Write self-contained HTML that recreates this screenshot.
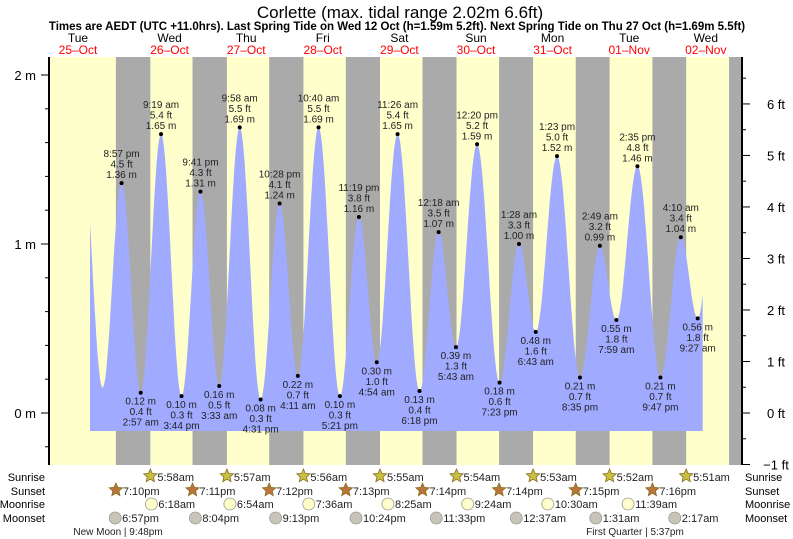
<!DOCTYPE html>
<html><head><meta charset="utf-8"><style>
body{margin:0;background:#fff;}
svg{display:block;font-family:"Liberation Sans",sans-serif;}
</style></head><body>
<svg id="c" width="793" height="539" viewBox="0 0 793 539"></svg>
<script>
const tideTimes=["2022-10-25 08:30","2022-10-25 15:00","2022-10-25 20:57","2022-10-26 02:57","2022-10-26 09:19","2022-10-26 15:44","2022-10-26 21:41","2022-10-27 03:33","2022-10-27 09:58","2022-10-27 16:31","2022-10-27 22:28","2022-10-28 04:11","2022-10-28 10:40","2022-10-28 17:21","2022-10-28 23:19","2022-10-29 04:54","2022-10-29 11:26","2022-10-29 18:18","2022-10-30 00:18","2022-10-30 05:43","2022-10-30 12:20","2022-10-30 19:23","2022-10-31 01:28","2022-10-31 06:43","2022-10-31 13:23","2022-10-31 20:35","2022-11-01 02:49","2022-11-01 07:59","2022-11-01 14:35","2022-11-01 21:47","2022-11-02 04:10","2022-11-02 09:27","2022-11-02 15:30"];
const tideHeights=[1.62,0.15,1.36,0.12,1.65,0.10,1.31,0.16,1.69,0.08,1.24,0.22,1.69,0.10,1.16,0.30,1.65,0.13,1.07,0.39,1.59,0.18,1.00,0.48,1.52,0.21,0.99,0.55,1.46,0.21,1.04,0.56,1.45];
const tideLabels=[null,null,"8:57 pm","2:57 am","9:19 am","3:44 pm","9:41 pm","3:33 am","9:58 am","4:31 pm","10:28 pm","4:11 am","10:40 am","5:21 pm","11:19 pm","4:54 am","11:26 am","6:18 pm","12:18 am","5:43 am","12:20 pm","7:23 pm","1:28 am","6:43 am","1:23 pm","8:35 pm","2:49 am","7:59 am","2:35 pm","9:47 pm","4:10 am","9:27 am",null];
const tideFt=[null,null,"4.5","0.4","5.4","0.3","4.3","0.5","5.5","0.3","4.1","0.7","5.5","0.3","3.8","1.0","5.4","0.4","3.5","1.3","5.2","0.6","3.3","1.6","5.0","0.7","3.2","1.8","4.8","0.7","3.4","1.8",null];
const dayNames=["Tue","Wed","Thu","Fri","Sat","Sun","Mon","Tue","Wed"];
const dayDates=["25–Oct","26–Oct","27–Oct","28–Oct","29–Oct","30–Oct","31–Oct","01–Nov","02–Nov"];
const sunrise=["","5:58am","5:57am","5:56am","5:55am","5:54am","5:53am","5:52am","5:51am"];
const sunset=["7:10pm","7:11pm","7:12pm","7:13pm","7:14pm","7:14pm","7:15pm","7:16pm",""];
const moonrise=["","6:18am","6:54am","7:36am","8:25am","9:24am","10:30am","11:39am",""];
const moonset=["6:57pm","8:04pm","9:13pm","10:24pm","11:33pm","","12:37am","1:31am","2:17am"];
const leftTicks=[0,1,2];
const rightTicks=[-1,0,1,2,3,4,5,6];

const NS="http://www.w3.org/2000/svg";
const svg=document.getElementById('c');
const X0=54.7,PD=76.6,T0=Date.UTC(2022,9,25);
const PL=49,PR=742,PT=57,PB=465;
function xd(d){return X0+PD*d;}
function parseT(s){const [a,b]=s.split(' ');const [y,m,d]=a.split('-').map(Number);const [h,mi]=b.split(':').map(Number);return (Date.UTC(y,m-1,d,h,mi)-T0)/864e5;}
function hm(s){let m=s.match(/(\d+):(\d+)(am|pm)/);let h=+m[1]%12;if(m[3]=='pm')h+=12;return (h+ +m[2]/60)/24;}
function ym(v){return 413-169*v;}
function mk(tag,attrs,name,text){const e=document.createElementNS(NS,tag);for(const k in attrs)e.setAttribute(k,attrs[k]);


if(text!==undefined)e.textContent=text;svg.appendChild(e);return e;}

mk('rect',{x:PL,y:PT,width:PR-PL,height:PB-PT,fill:'#ffffcc'},'plot-background');
for(let d=0;d<8;d++){
  const s=d+hm(sunset[d]), r=d+1+hm(sunrise[d+1]);
  mk('rect',{x:xd(s),y:PT,width:xd(r)-xd(s),height:PB-PT,fill:'#aaaaaa'},'night-band');
}
mk('rect',{x:xd(8+hm('7:17pm')),y:PT,width:PR-xd(8+hm('7:17pm')),height:PB-PT,fill:'#aaaaaa'},'night-band');

const td=tideTimes.map(parseT);
const start=parseT("2022-10-25 11:04"), end=parseT("2022-11-02 11:02");
function hAt(t){for(let i=0;i<td.length-1;i++){if(t>=td[i]&&t<=td[i+1]){const p=(t-td[i])/(td[i+1]-td[i]);return tideHeights[i]+(tideHeights[i+1]-tideHeights[i])*(1-Math.cos(Math.PI*p))/2;}}return tideHeights[0];}
let pts=[];const N=900;
for(let i=0;i<=N;i++){const t=start+(end-start)*i/N;pts.push(xd(t).toFixed(1)+','+ym(hAt(t)).toFixed(1));}
const yb=431;
mk('polygon',{points:xd(start).toFixed(1)+','+yb+' '+pts.join(' ')+' '+xd(end).toFixed(1)+','+yb,fill:'#a0aaff'},'tide-area');

for(let i=0;i<td.length;i++){
  if(!tideLabels[i])continue;
  const x=xd(td[i]),y=ym(tideHeights[i]);
  const hi=(i%2===0);
  mk('circle',{cx:x,cy:y,r:2,fill:'#000'},hi?'high-tide-point':'low-tide-point');
  const lines=hi?[tideLabels[i],tideFt[i]+' ft',tideHeights[i].toFixed(2)+' m']:[tideHeights[i].toFixed(2)+' m',tideFt[i]+' ft',tideLabels[i]];
  lines.forEach((l,k)=>{
    const ty=hi?y-26+k*10.5:y+12+k*10.5;
    mk('text',{x:x,y:ty,'font-size':10,'text-anchor':'middle',fill:'#222'},hi?'high-tide-label':'low-tide-label',l);
  });
}

mk('line',{x1:PL,y1:PT,x2:PL,y2:PB,stroke:'#000','stroke-width':2},'left-axis');
mk('line',{x1:PR,y1:PT,x2:PR,y2:PB,stroke:'#000','stroke-width':2},'right-axis');
for(let v=-0.2;v<=2.21;v+=0.2){const y=ym(v);if(y<PT||y>PB)continue;mk('line',{x1:PL-4,y1:y,x2:PL,y2:y,stroke:'#000'},'left-minor-tick');}
leftTicks.forEach(v=>{const y=ym(v);mk('line',{x1:PL-8,y1:y,x2:PL,y2:y,stroke:'#000'},'left-major-tick');
  mk('text',{x:36,y:y+5,'font-size':13,'text-anchor':'end',fill:'#000'},'left-tick-label',v+' m');});
for(let f=-1;f<=6.51;f+=0.5){const y=ym(f*0.3048);mk('line',{x1:PR,y1:y,x2:PR+(Number.isInteger(f)?8:4),y2:y,stroke:'#000'},'right-tick');}
rightTicks.forEach(f=>{const y=ym(f*0.3048);mk('text',{x:776,y:y+5,'font-size':13,'text-anchor':'middle',fill:'#000'},'right-tick-label',(f<0?'−'+(-f):f)+' ft');});

dayNames.forEach((n,d)=>{const x=d===0?78:xd(d+0.5);
  mk('text',{x:x,y:42,'font-size':12,'text-anchor':'middle',fill:'#000'},'day-name',n);
  mk('text',{x:x,y:54,'font-size':12,'text-anchor':'middle',fill:'#ff0000'},'day-date',dayDates[d]);});

mk('text',{x:400,y:18,'font-size':17,'text-anchor':'middle',fill:'#000'},'chart-title','Corlette (max. tidal range 2.02m 6.6ft)');
mk('text',{x:397,y:30,'font-size':11.5,'font-weight':'bold','text-anchor':'middle',fill:'#000'},'chart-subtitle','Times are AEDT (UTC +11.0hrs). Last Spring Tide on Wed 12 Oct (h=1.59m 5.2ft). Next Spring Tide on Thu 27 Oct (h=1.69m 5.5ft)');

const rows=[['Sunrise',477,sunrise,'sunrise'],['Sunset',491,sunset,'sunset'],['Moonrise',504,moonrise,'moonrise'],['Moonset',518,moonset,'moonset']];
function star(cx,cy,fill,name){let p=[];for(let k=0;k<10;k++){const r=k%2?3.2:7,a=-Math.PI/2+k*Math.PI/5;p.push((cx+r*Math.cos(a)).toFixed(1)+','+(cy+r*Math.sin(a)).toFixed(1));}
  mk('polygon',{points:p.join(' '),fill:fill,stroke:'#8a6a20','stroke-width':0.8},name);}
rows.forEach(([lab,y,arr,kind])=>{
  mk('text',{x:45,y:y+4,'font-size':11,'text-anchor':'end',fill:'#000'},kind+'-row-label',lab);
  mk('text',{x:745,y:y+4,'font-size':11,fill:'#000'},kind+'-row-label-right',lab);
  arr.forEach((t,d)=>{if(!t)return;const x=xd(d+hm(t));
    if(kind==='sunrise')star(x,y-1,'#c8c040','sunrise-icon');
    else if(kind==='sunset')star(x,y-1,'#b8763a','sunset-icon');
    else mk('circle',{cx:x,cy:y,r:6,fill:kind==='moonrise'?'#ffffcc':'#c8c4b8',stroke:'#999','stroke-width':0.8},kind+'-icon');
    mk('text',{x:x+7,y:y+4,'font-size':11,fill:'#222'},kind+'-time',t);});
});
mk('text',{x:118,y:535,'font-size':10,'text-anchor':'middle',fill:'#222'},'new-moon-label','New Moon | 9:48pm');
mk('text',{x:635,y:535,'font-size':10,'text-anchor':'middle',fill:'#222'},'first-quarter-label','First Quarter | 5:37pm');
</script>
</body></html>
